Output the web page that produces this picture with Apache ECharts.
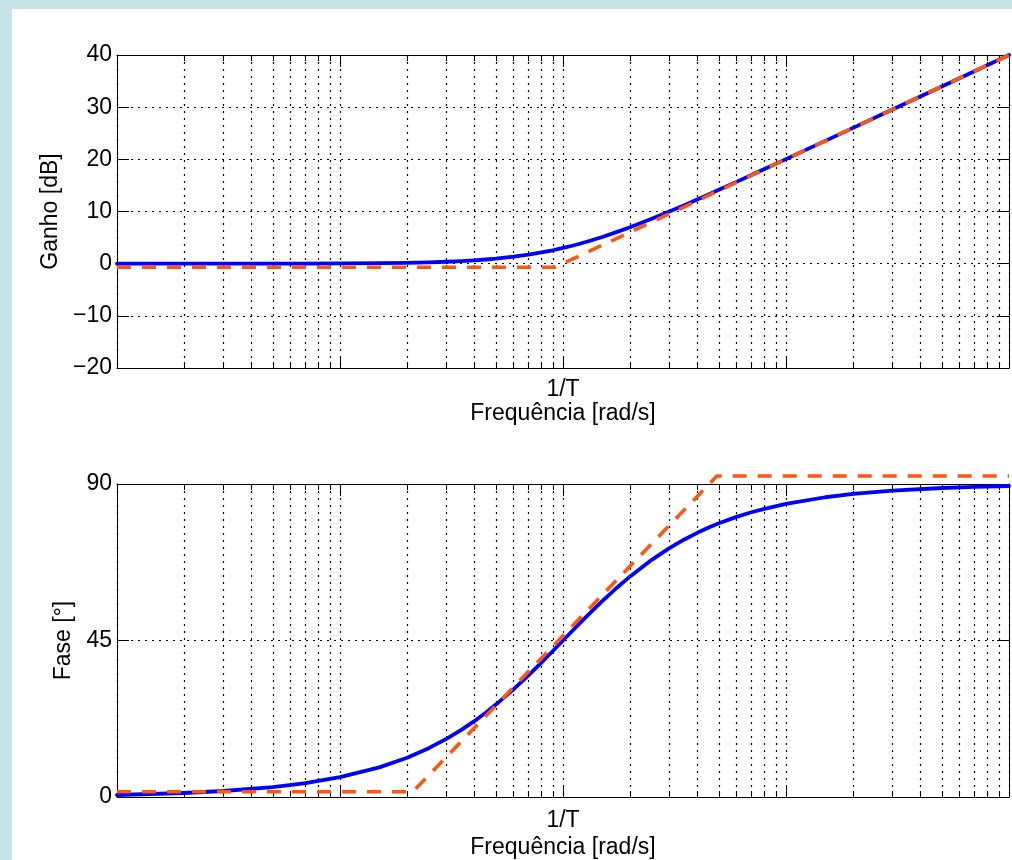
<!DOCTYPE html>
<html>
<head>
<meta charset="utf-8">
<script src="https://cdn.jsdelivr.net/npm/echarts@6/dist/echarts.min.js"></script>
<style>
  html, body { margin: 0; padding: 0; width: 1012px; height: 860px; background: #c6e4e8; overflow: hidden; }
  #chart { position: absolute; left: 12px; top: 9px; width: 1000px; height: 851px; background: #ffffff; }
</style>
</head>
<body>
<div id="chart"></div>
<script>
// ---- Data (frequency in units of 1/T) ----
const freqs = [0.01, 0.02, 0.03, 0.05, 0.07, 0.1, 0.15, 0.2, 0.25, 0.3, 0.35, 0.4, 0.45, 0.5, 0.6,
               0.7, 0.8, 0.9, 1, 1.1, 1.2, 1.3, 1.5, 1.75, 2, 2.5, 3, 3.5, 4, 4.5,
               5, 6, 7, 8, 10, 15, 20, 30, 50, 70, 100];
const gainDb = [0, 0, 0, 0.01, 0.02, 0.04, 0.1, 0.17, 0.26, 0.37, 0.5, 0.64, 0.8, 0.97, 1.34,
                1.73, 2.15, 2.57, 3.01, 3.44, 3.87, 4.3, 5.12, 6.09, 6.99, 8.6, 10.0, 11.22, 12.3, 13.27,
                14.15, 15.68, 16.99, 18.13, 20.04, 23.54, 26.03, 29.55, 33.98, 36.9, 40.0];
const phaseDeg = [0.57, 1.15, 1.72, 2.86, 4.0, 5.71, 8.53, 11.3, 14.04, 16.7, 19.29, 21.8, 24.23, 26.57, 30.96,
                  34.99, 38.66, 41.99, 45.0, 47.73, 50.19, 52.43, 56.31, 60.26, 63.43, 68.2, 71.57, 74.05, 75.96, 77.47,
                  78.69, 80.54, 81.87, 82.87, 84.29, 86.19, 87.14, 88.09, 88.85, 89.18, 89.43];
const gainAsymFreq = [0.01, 0.92, 100];
const gainAsymDb = [-0.7, -0.7, 40];
const phaseAsymFreq = [0.01, 0.212, 4.9, 100];
const phaseAsymDeg = [1.5, 1.5, 92.3, 92.3];
const gainTicks = [-20, -10, 0, 10, 20, 30, 40];
const phaseTicks = [0, 45, 90];
const decades = [0.01, 0.1, 1, 10, 100];
const minorMultipliers = [2, 3, 4, 5, 6, 7, 8, 9];
const xTickLabel = '1/T';
const xName = 'Frequência [rad/s]';
const gainName = 'Ganho [dB]';
const phaseName = 'Fase [°]';

// ---- Build ----
const lg = Math.log10;
const majorX = decades.map(lg);
const minorX = [];
decades.slice(0, -1).forEach(d => minorMultipliers.forEach(k => minorX.push(lg(d * k))));
const pairs = (xs, ys) => xs.map((x, i) => [lg(x), ys[i]]);

const FONT = 'Liberation Sans, Arial, Helvetica, sans-serif';
const FS = 23;
const black = '#000';
const dotted = { type: [2, 5], color: '#000', width: 1.2 };
const blue = '#0000ff';
const red = '#ff5511';

function xAxesFor(g, labelMargin, nameGap) {
  const base = { type: 'value', gridIndex: g, min: -2, max: 2, interval: 1 };
  return [
    Object.assign({}, base, {
      position: 'bottom',
      axisLine: { show: true, onZero: false, lineStyle: { color: black, width: 1 } },
      axisTick: { show: true, inside: true, length: 12, customValues: majorX, lineStyle: { color: black, width: 1 } },
      axisLabel: { show: true, customValues: [0], formatter: () => xTickLabel, fontSize: FS, color: black, fontFamily: FONT, margin: labelMargin },
      splitLine: { show: true, lineStyle: dotted },
      name: xName, nameLocation: 'middle', nameGap: nameGap,
      nameTextStyle: { fontSize: FS, color: black, fontFamily: FONT }
    }),
    Object.assign({}, base, {
      position: 'bottom',
      axisLine: { show: false, onZero: false },
      axisTick: { show: true, inside: true, length: 6, customValues: minorX, lineStyle: { color: black, width: 1 } },
      axisLabel: { show: false },
      splitLine: { show: true, lineStyle: dotted }
    }),
    Object.assign({}, base, {
      position: 'top',
      axisLine: { show: true, onZero: false, lineStyle: { color: black, width: 1 } },
      axisTick: { show: true, inside: true, length: 12, customValues: majorX, lineStyle: { color: black, width: 1 } },
      axisLabel: { show: false },
      splitLine: { show: false }
    }),
    Object.assign({}, base, {
      position: 'top',
      axisLine: { show: false, onZero: false },
      axisTick: { show: true, inside: true, length: 6, customValues: minorX, lineStyle: { color: black, width: 1 } },
      axisLabel: { show: false },
      splitLine: { show: false }
    })
  ];
}

function yAxesFor(g, ticks, name, nameGap) {
  const base = { type: 'value', gridIndex: g, min: ticks[0], max: ticks[ticks.length - 1], interval: ticks[1] - ticks[0] };
  return [
    Object.assign({}, base, {
      position: 'left',
      axisLine: { show: true, onZero: false, lineStyle: { color: black, width: 1 } },
      axisTick: { show: true, inside: true, length: 12, lineStyle: { color: black, width: 1 } },
      axisLabel: { show: true, fontSize: FS, color: black, fontFamily: FONT, margin: 5,
                   formatter: v => String(v).replace('-', '\u2212') },
      splitLine: { show: true, lineStyle: dotted },
      name: name, nameLocation: 'middle', nameGap: nameGap, nameRotate: 90,
      nameTextStyle: { fontSize: FS, color: black, fontFamily: FONT }
    }),
    Object.assign({}, base, {
      position: 'right',
      axisLine: { show: true, onZero: false, lineStyle: { color: black, width: 1 } },
      axisTick: { show: true, inside: true, length: 12, lineStyle: { color: black, width: 1 } },
      axisLabel: { show: false },
      splitLine: { show: false }
    })
  ];
}

const option = {
  animation: false,
  grid: [
    { left: 105, top: 46, width: 892, height: 313, containLabel: false },
    { left: 105, top: 475, width: 892, height: 313, containLabel: false }
  ],
  xAxis: [].concat(xAxesFor(0, 10, 33), xAxesFor(1, 12, 39)),
  yAxis: [].concat(yAxesFor(0, gainTicks, gainName, 54), yAxesFor(1, phaseTicks, phaseName, 42)),
  series: [
    { type: 'line', name: 'gain', xAxisIndex: 0, yAxisIndex: 0, data: pairs(freqs, gainDb),
      showSymbol: false, symbol: 'none', smooth: false, z: 3,
      lineStyle: { color: blue, width: 3.8, join: 'round', cap: 'round' } },
    { type: 'line', name: 'gainAsym', xAxisIndex: 0, yAxisIndex: 0, data: pairs(gainAsymFreq, gainAsymDb),
      showSymbol: false, symbol: 'none', z: 4, clip: false,
      lineStyle: { color: red, width: 3.6, type: [14, 11] } },
    { type: 'line', name: 'phase', xAxisIndex: 4, yAxisIndex: 2, data: pairs(freqs, phaseDeg),
      showSymbol: false, symbol: 'none', smooth: false, z: 3,
      lineStyle: { color: blue, width: 3.8, join: 'round', cap: 'round' } },
    { type: 'line', name: 'phaseAsym', xAxisIndex: 4, yAxisIndex: 2, data: pairs(phaseAsymFreq, phaseAsymDeg),
      showSymbol: false, symbol: 'none', z: 4, clip: false,
      lineStyle: { color: red, width: 3.6, type: [14, 11] } }
  ]
};

const chart = echarts.init(document.getElementById('chart'), null, { renderer: 'canvas' });
chart.setOption(option);
</script>
</body>
</html>
